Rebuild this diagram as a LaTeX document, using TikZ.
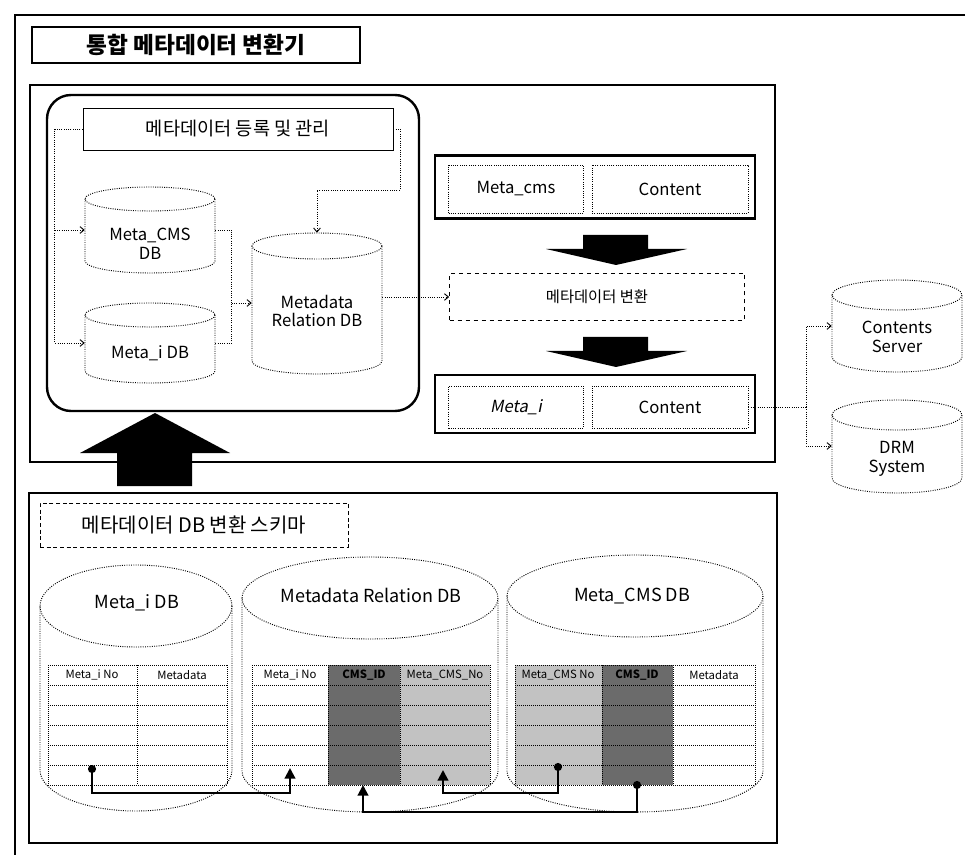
\documentclass[tikz,border=0pt]{standalone}
\usepackage{fontspec}
\setmainfont{Noto Sans CJK KR}
\newfontfamily\slantkr[FakeSlant=0.2]{Noto Sans CJK KR}
\usetikzlibrary{arrows.meta,positioning}
\newcommand\px{0.75pt}
% cylinder outline: cx, cy of top ellipse, rx, ry, body height
\newcommand\dbdrum[5]{%
  \draw[drumline] (#1-#3,#2) -- ++(0,#5) arc[start angle=180,end angle=0,x radius=#3,y radius=#4] -- ++(0,-#5);
  \draw[drumline] (#1,#2) ellipse[x radius=#3,y radius=#4];}
\tikzset{
  frame/.style={draw, line width=1.8pt},
  drumline/.style={densely dotted, line width=0.7pt},
  dotbox/.style={draw, densely dotted, line width=0.7pt, inner sep=0pt},
  spot/.style={inner sep=0pt},
  link/.style={densely dotted, line width=0.7pt, -{Straight Barb[length=3pt,width=5pt]}},
  keyarrow/.style={line width=1.6pt, {Circle[length=6pt]}-{Triangle[length=8pt,width=8pt]}},
  tgrid/.style={densely dotted, line width=0.5pt},
  lbl/.style={font=\fontsize{12.5}{14}\selectfont, align=center, inner sep=1pt},
  biglbl/.style={font=\fontsize{13.5}{15}\selectfont, inner sep=1pt},
  thead/.style={font=\fontsize{8.5}{9}\selectfont, inner sep=0pt},
  shadedark/.style={fill=black!58},
  shadelight/.style={fill=black!24},
}
\begin{document}
\begin{tikzpicture}[x=0.75pt,y=-0.75pt]
\useasboundingbox (0,0) rectangle (967,855);
\draw[line width=1pt] (965,15) -- (15,15) -- (15,855);
\node[draw, line width=1pt, minimum width=328*\px, minimum height=36*\px,
  font=\bfseries\fontsize{17}{19}\selectfont] (title) at (196,45) {통합 메타데이터 변환기};

% upper part
\draw[frame] (30,85) rectangle (775,462);
\draw[frame, rounded corners=18pt] (47,95) rectangle (419,411);
\node[draw, line width=0.6pt, minimum width=310*\px, minimum height=42*\px,
  font=\fontsize{14}{16}\selectfont] (reg) at (238,129) {메타데이터 등록 및 관리};

\dbdrum{150}{199}{65}{12}{62}
\node[spot, minimum width=130*\px, minimum height=86*\px] (metacms) at (150,230) {};
\node[lbl] (metacms-t) at (150,244) {Meta\_CMS\\DB};
\dbdrum{150}{315}{65}{12}{56}
\node[spot, minimum width=130*\px, minimum height=80*\px] (metai) at (150,343) {};
\node[lbl] (metai-t) at (150,353) {Meta\_i DB};
\dbdrum{317}{246}{65}{13}{115}
\node[spot, minimum width=130*\px, minimum height=140*\px] (relup) at (317,303) {};
\node[lbl] (relup-t) at (317,311) {Metadata\\Relation DB};

\draw[link] (reg.west) -| ([xshift=-22.5pt]metai.west) -- (metai.west);
\draw[link] ([xshift=-22.5pt]metacms.west) -- (metacms.west);
\coordinate (regturn) at (400,190);
\draw[link] (reg.east) -| (regturn) -| (relup.north);
\draw[densely dotted, line width=0.7pt] (metacms.east) -| ([xshift=-15pt]relup.west);
\draw[densely dotted, line width=0.7pt] (metai.east) -| ([xshift=-15pt]relup.west);
\draw[link] ([xshift=-15pt]relup.west) -- (relup.west);

\node[frame, minimum width=320*\px, minimum height=63*\px] (inbox) at (595,187) {};
\node[dotbox, lbl, minimum width=135*\px, minimum height=48*\px] (cmsmeta) at (516,189) {Meta\_cms};
\node[dotbox, lbl, minimum width=156*\px, minimum height=48*\px] (cont1) at (670,189) {Content};
\fill (583,235) -- (648,235) -- (648,249) -- (687,249) -- (616,265) -- (546,249) -- (583,249) -- cycle;
\node[draw, dashed, line width=0.6pt, minimum width=295*\px, minimum height=47*\px,
  font=\fontsize{11.5}{13}\selectfont] (conv) at (597,297) {메타데이터 변환};
\fill (583,337) -- (648,337) -- (648,351) -- (687,351) -- (616,367) -- (546,351) -- (583,351) -- cycle;
\node[frame, minimum width=320*\px, minimum height=58*\px] (outbox) at (595,404) {};
\node[dotbox, lbl, minimum width=135*\px, minimum height=42*\px, font=\slantkr\fontsize{12.5}{14}\selectfont] (imeta) at (516,407) {Meta\_i};
\node[dotbox, lbl, minimum width=156*\px, minimum height=42*\px] (cont2) at (670,407) {Content};
\draw[link] (relup.east |- conv.west) -- (conv.west);

% up arrow
\fill (155,413) -- (230,453) -- (192,453) -- (192,486) -- (117,486) -- (117,453) -- (80,453) -- cycle;

% storage on the right
\dbdrum{897}{295}{65}{15}{62}
\node[spot, minimum width=130*\px, minimum height=92*\px] (server) at (897,326) {};
\node[lbl] (server-t) at (897,337) {Contents\\Server};
\dbdrum{897}{415}{65}{15}{63}
\node[spot, minimum width=130*\px, minimum height=93*\px] (drm) at (897,446) {};
\node[lbl] (drm-t) at (897,459) {DRM\\System};
\coordinate (split) at (806,407);
\draw[densely dotted, line width=0.7pt] (cont2.east) -- (split);
\draw[link] (split) |- (server.west);
\draw[link] (split) |- (drm.west);

% lower part
\draw[frame] (29,493) rectangle (777,843);
\node[draw, densely dashed, line width=0.6pt, minimum width=308*\px, minimum height=44*\px,
  font=\fontsize{15}{17}\selectfont] (schema) at (194,525) {메타데이터 DB 변환 스키마};

\dbdrum{136}{606}{96}{41}{164}
\node[biglbl] (idb) at (137,603) {Meta\_i DB};
\dbdrum{370}{598}{128}{41}{173}
\node[biglbl] (rdb) at (371,595) {Metadata Relation DB};
\dbdrum{635}{596}{128}{41}{175}
\node[biglbl] (cdb) at (632,596) {Meta\_CMS DB};

% tables
\fill[shadedark] (328,665) rectangle (400,785);
\fill[shadelight] (400,665) rectangle (490,785);
\fill[shadelight] (515,665) rectangle (602,785);
\fill[shadedark] (602,665) rectangle (673,785);
\foreach \tl/\tr in {48/227, 252/490, 515/755} {
  \foreach \y in {665,685,...,785}
    \draw[tgrid] (\tl,\y) -- (\tr,\y);
  \draw[tgrid] (\tl,665) -- (\tl,785);
  \draw[tgrid] (\tr,665) -- (\tr,785);
}
\foreach \cx in {137, 328, 400, 602, 673}
  \draw[tgrid] (\cx,665) -- (\cx,785);
\node[thead] (ih1) at (92,675) {Meta\_i No};
\node[thead] (ih2) at (182,675) {Metadata};
\node[thead] (rh1) at (290,675) {Meta\_i No};
\node[thead, font=\bfseries\fontsize{8.5}{9}\selectfont] (rh2) at (364,675) {CMS\_ID};
\node[thead] (rh3) at (445,675) {Meta\_CMS\_No};
\node[thead] (ch1) at (558,675) {Meta\_CMS No};
\node[thead, font=\bfseries\fontsize{8.5}{9}\selectfont] (ch2) at (637,675) {CMS\_ID};
\node[thead] (ch3) at (714,675) {Metadata};

\coordinate (ino) at (92,765);
\coordinate (rino) at (290,768);
\coordinate (cno) at (558,763);
\coordinate (rcno) at (443,770);
\coordinate (cid) at (637,781);
\coordinate (rcid) at (363,785);
\draw[keyarrow] (ino) -- ++(0,28) -| (rino);
\draw[keyarrow] (cno) -- ++(0,30) -| (rcno);
\draw[keyarrow] (cid) -- ++(0,31) -| (rcid);
\end{tikzpicture}
\end{document}
